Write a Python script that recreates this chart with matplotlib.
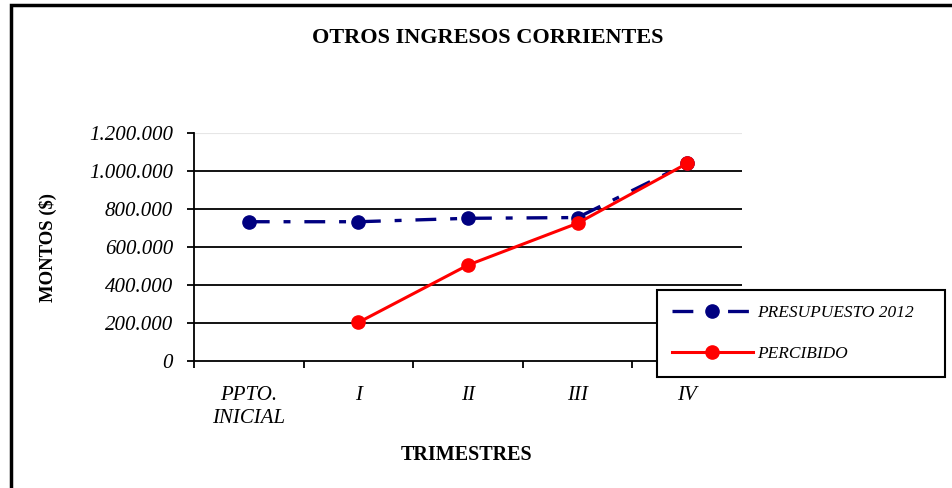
import matplotlib.pyplot as plt
import matplotlib.patches as mpatches
from matplotlib.ticker import FuncFormatter, FixedLocator
import numpy as np

plt.rcParams['font.family'] = ['Liberation Serif', 'DejaVu Serif']
plt.rcParams['lines.scale_dashes'] = False

categorias = ['PPTO.\nINICIAL', 'I', 'II', 'III', 'IV']
presupuesto = [733000, 733000, 751000, 755000, 1040000]
percibido = [np.nan, 203000, 505000, 725000, 1040000]
y_ticks = [0, 200000, 400000, 600000, 800000, 1000000, 1200000]

fig = plt.figure(figsize=(9.52, 4.88), dpi=100)
ax = fig.add_axes([0.2038, 0.2602, 0.5756, 0.4673])

x = np.arange(len(categorias))
ax.plot(x, presupuesto, color='#000080', lw=2.4, marker='o', ms=9.5,
        dashes=[15, 10, 5, 10], label='PRESUPUESTO 2012', zorder=3)
ax.plot(x, percibido, color='#ff0000', lw=2.2, marker='o', ms=9.5,
        label='PERCIBIDO', zorder=4)

ax.set_xlim(-0.5, 4.5)
ax.set_ylim(0, 1200000)
ax.set_yticks(y_ticks)
ax.yaxis.set_major_formatter(FuncFormatter(lambda v, p: f'{int(v):,}'.replace(',', '.')))
for v in y_ticks[1:-1]:
    ax.axhline(v, color='black', lw=1.3, zorder=1)
ax.axhline(1200000, color='#e6e6e6', lw=1.5, zorder=1)

ax.set_xticks(x)
ax.set_xticklabels(categorias, linespacing=1.3)
ax.xaxis.set_minor_locator(FixedLocator(np.arange(-0.5, 5, 1)))
ax.tick_params(axis='x', which='major', length=0, pad=18, labelsize=15)
ax.tick_params(axis='x', which='minor', length=5, width=1.3, direction='out')
ax.tick_params(axis='y', length=5, width=1.3, direction='out', labelsize=15, pad=10)
for lab in ax.get_xticklabels() + ax.get_yticklabels():
    lab.set_fontstyle('italic')

for s in ['top', 'right']:
    ax.spines[s].set_visible(False)
for s in ['left', 'bottom']:
    ax.spines[s].set_linewidth(1.3)

ax.set_ylabel('MONTOS ($)', fontsize=13.5, fontweight='bold')
ax.yaxis.set_label_coords(-0.25, 0.5)
ax.set_xlabel('TRIMESTRES', fontsize=14.5, fontweight='bold')
ax.xaxis.set_label_coords(0.497, -0.37)
fig.text(0.512, 0.922, 'OTROS INGRESOS CORRIENTES', ha='center', va='center',
         fontsize=16, fontweight='bold')

leg = fig.legend(loc='upper left', bbox_to_anchor=(0.69, 0.226, 0.303, 0.18),
                 mode='expand', prop={'style': 'italic', 'size': 12.5},
                 handlelength=4.7, handletextpad=0.2, labelspacing=1.45,
                 borderpad=0.85, borderaxespad=0,
                 fancybox=False, framealpha=1, edgecolor='black')
leg.get_frame().set_linewidth(1.5)

fig.patches.append(mpatches.Rectangle((0.0115, -0.05), 1.2, 1.04, transform=fig.transFigure,
                                      fill=False, edgecolor='black', lw=2.5))

fig.savefig('out.png', dpi=100)
